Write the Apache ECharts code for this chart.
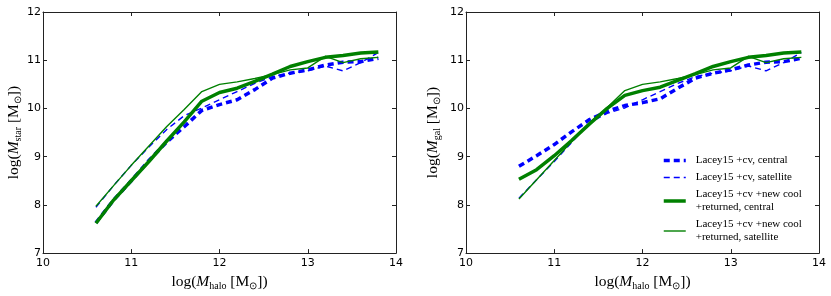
<!DOCTYPE html>
<html>
<head>
<meta charset="utf-8">
<script src="https://cdn.jsdelivr.net/npm/echarts@6/dist/echarts.min.js"></script>
<style>html,body{margin:0;padding:0;background:#fff}#c{width:831px;height:296px}</style>
</head>
<body>
<div id="c"></div>
<script>
// log halo mass grid
const logMhalo = [10.6,10.8,11.0,11.2,11.4,11.6,11.8,12.0,12.2,12.4,12.6,12.8,13.0,13.2,13.4,13.6,13.8];

// Left panel: log(M_star)
const starLaceyCentral   = [7.63,8.10,8.50,8.92,9.30,9.62,9.96,10.08,10.18,10.39,10.63,10.73,10.80,10.90,10.96,10.97,11.04];
const starLaceySatellite = [7.95,8.40,8.82,9.20,9.56,9.85,10.01,10.18,10.35,10.52,10.66,10.73,10.78,10.88,10.78,10.95,11.16];
const starNewCentral     = [7.62,8.10,8.50,8.90,9.32,9.72,10.15,10.33,10.42,10.56,10.71,10.87,10.97,11.06,11.10,11.15,11.17];
const starNewSatellite   = [7.97,8.40,8.82,9.22,9.62,9.98,10.35,10.50,10.55,10.62,10.70,10.80,10.84,11.08,10.95,11.03,11.06];

// Right panel: log(M_gal)
const galLaceyCentral    = [8.80,9.02,9.25,9.52,9.77,9.94,10.06,10.12,10.20,10.42,10.63,10.73,10.80,10.90,10.96,10.97,11.04];
const galLaceySatellite  = [8.14,8.52,8.90,9.30,9.70,9.90,10.01,10.18,10.35,10.52,10.66,10.73,10.78,10.88,10.78,10.95,11.16];
const galNewCentral      = [8.53,8.73,9.02,9.34,9.68,10.00,10.27,10.37,10.44,10.58,10.72,10.87,10.97,11.06,11.10,11.15,11.17];
const galNewSatellite    = [8.12,8.52,8.92,9.32,9.70,10.02,10.37,10.50,10.55,10.62,10.70,10.80,10.84,11.08,10.95,11.03,11.06];

const seriesNames = ['lc','ls','nc','ns'];
const legendLabels = {
  lc: 'Lacey15 +cv, central',
  ls: 'Lacey15 +cv, satellite',
  nc: 'Lacey15 +cv +new cool\n+returned, central',
  ns: 'Lacey15 +cv +new cool\n+returned, satellite'
};

const BLUE = '#0000ff', GREEN = '#008000';
const styles = {
  lc: {color: BLUE, width: 3.5, type: [6, 4]},
  ls: {color: BLUE, width: 1.4, type: [6, 4]},
  nc: {color: GREEN, width: 3.5, type: 'solid'},
  ns: {color: GREEN, width: 1.4, type: 'solid'}
};

function pairs(ys){ return logMhalo.map((x,i)=>[x, ys[i]]); }

const serif = 'Liberation Serif';
const rich = {
  n: {fontFamily: serif, fontSize: 15.5, color: '#000', lineHeight: 18, verticalAlign: 'middle'},
  i: {fontFamily: serif, fontSize: 15.5, fontStyle: 'italic', color: '#000', lineHeight: 18, verticalAlign: 'middle'},
  s: {fontFamily: serif, fontSize: 10, color: '#000', lineHeight: 12, verticalAlign: 'bottom'}
};
const xName = '{n|log(}{i|M}{s|halo}{n| [M}{s|⊙}{n|])}';
const yNameL = '{n|log(}{i|M}{s|star}{n| [M}{s|⊙}{n|])}';
const yNameR = '{n|log(}{i|M}{s|gal}{n| [M}{s|⊙}{n|])}';

const axisLine = {show: true, onZero: false, lineStyle: {color: '#222', width: 1}};
const tick = {show: true, inside: true, length: 4, lineStyle: {color: '#222'}};
const lab = {color: '#000', fontFamily: 'DejaVu Sans', fontSize: 11};

const grids = [
  {left: 43, top: 12, width: 353, height: 242},
  {left: 466, top: 12, width: 353, height: 242}
];

const xAxes = [], yAxes = [];
[0,1].forEach(g => {
  xAxes.push({type: 'value', gridIndex: g, min: 10, max: 14, interval: 1, position: 'bottom',
    axisLine, axisTick: tick, splitLine: {show: false},
    axisLabel: Object.assign({margin: 5}, lab),
    name: xName, nameLocation: 'middle', nameGap: 19, nameTextStyle: {rich}});
  xAxes.push({type: 'value', gridIndex: g, min: 10, max: 14, interval: 1, position: 'top',
    axisLine, axisTick: tick, splitLine: {show: false}, axisLabel: {show: false}});
  yAxes.push({type: 'value', gridIndex: g, min: 7, max: 12, interval: 1, position: 'left',
    axisLine, axisTick: tick, splitLine: {show: false},
    axisLabel: Object.assign({margin: 2}, lab),
    name: g === 0 ? yNameL : yNameR, nameLocation: 'middle', nameRotate: 90,
    nameGap: g === 0 ? 20 : 24, nameTextStyle: {rich}});
  yAxes.push({type: 'value', gridIndex: g, min: 7, max: 12, interval: 1, position: 'right',
    axisLine, axisTick: tick, splitLine: {show: false}, axisLabel: {show: false}});
});

const panelData = [
  {lc: starLaceyCentral, ls: starLaceySatellite, nc: starNewCentral, ns: starNewSatellite},
  {lc: galLaceyCentral, ls: galLaceySatellite, nc: galNewCentral, ns: galNewSatellite}
];

const series = [];
[0,1].forEach(g => {
  seriesNames.forEach(k => {
    series.push({
      name: k, type: 'line', xAxisIndex: g*2, yAxisIndex: g*2,
      data: pairs(panelData[g][k]), symbol: 'none', smooth: false,
      lineStyle: {color: styles[k].color, width: styles[k].width, type: styles[k].type},
      itemStyle: {color: styles[k].color},
      animation: false, z: 2
    });
  });
});

const chart = echarts.init(document.getElementById('c'), null, {renderer: 'canvas'});
chart.setOption({
  backgroundColor: '#fff',
  animation: false,
  grid: grids,
  xAxis: xAxes,
  yAxis: yAxes,
  legend: {
    orient: 'vertical', left: 662, top: 154, padding: 0, itemGap: 4,
    itemWidth: 22, itemHeight: 12, selectedMode: false,
    data: seriesNames.map(k => ({name: k,
      lineStyle: {color: styles[k].color, width: styles[k].width, type: styles[k].type},
      itemStyle: {color: 'rgba(0,0,0,0)', borderWidth: 0, opacity: 0}})),
    formatter: n => legendLabels[n],
    textStyle: {fontFamily: serif, fontSize: 11, lineHeight: 13, color: '#000', padding: [0,0,0,5]}
  },
  series
});
</script>
</body>
</html>
